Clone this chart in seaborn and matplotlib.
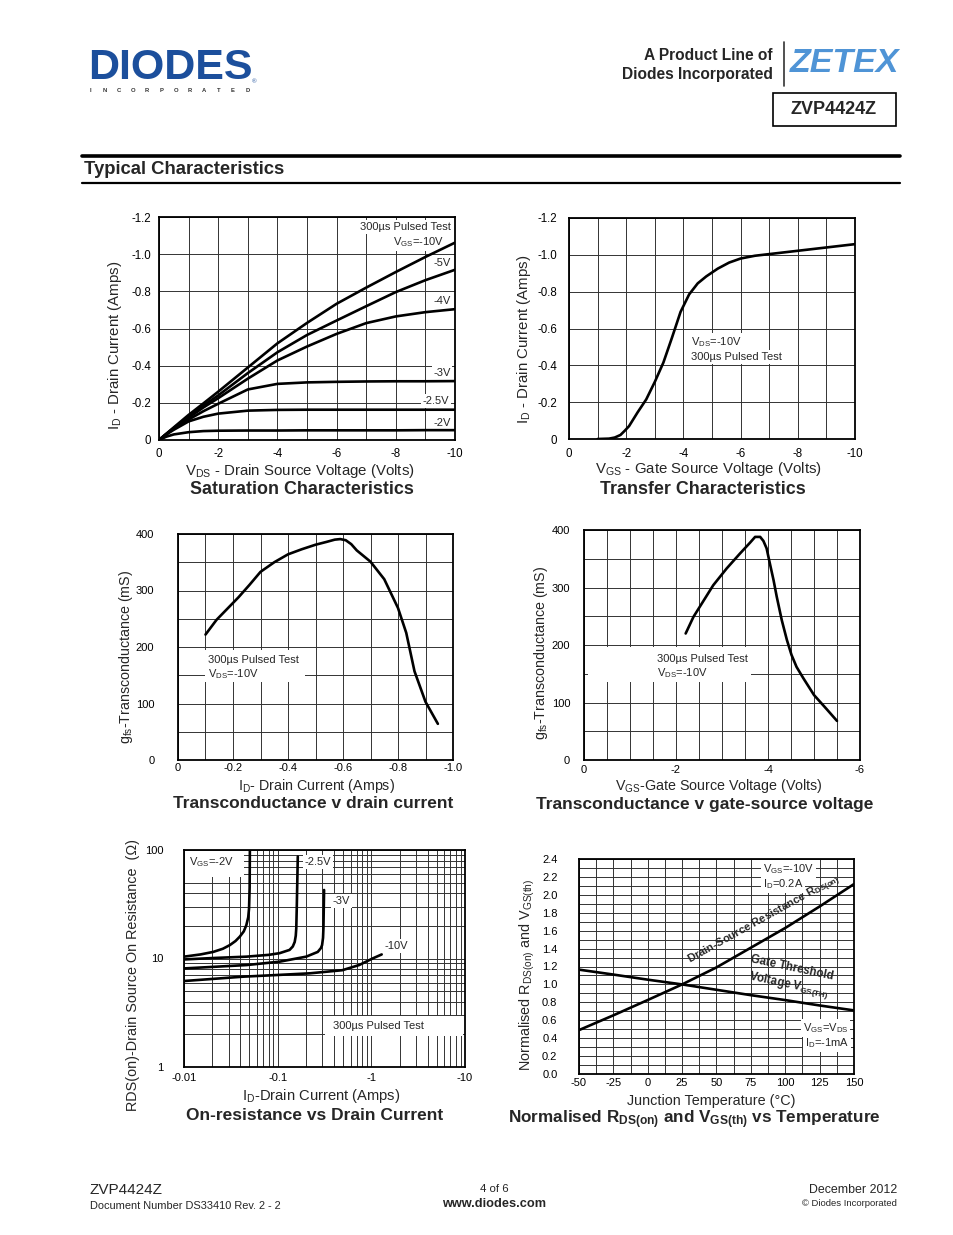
import matplotlib
matplotlib.use("Agg")
import matplotlib.pyplot as plt
import seaborn as sns
from matplotlib.lines import Line2D
from matplotlib.patches import Rectangle
from matplotlib.ticker import NullFormatter

# ---------------- data ----------------
# Saturation characteristics (VDS in V, ID in A)
sat_vds = [0, -0.25, -0.5, -1, -1.5, -2, -3, -4, -5, -6, -7, -8, -9, -10]
sat_id_m10 = [0, -0.034, -0.068, -0.135, -0.197, -0.26, -0.39, -0.52, -0.63, -0.733, -0.82, -0.904, -0.985, -1.062]
sat_id_m5 = [0, -0.033, -0.065, -0.125, -0.185, -0.24, -0.36, -0.472, -0.565, -0.643, -0.72, -0.796, -0.86, -0.916]
sat_id_m4 = [0, -0.032, -0.062, -0.12, -0.175, -0.225, -0.33, -0.428, -0.503, -0.571, -0.629, -0.665, -0.688, -0.704]
sat_id_m3 = [0, -0.031, -0.06, -0.11, -0.155, -0.195, -0.272, -0.302, -0.31, -0.313, -0.315, -0.316, -0.316, -0.317]
sat_id_m25 = [0, -0.03, -0.055, -0.1, -0.125, -0.142, -0.158, -0.162, -0.163, -0.163, -0.163, -0.163, -0.163, -0.163]
sat_id_m2 = [0, -0.018, -0.03, -0.042, -0.048, -0.05, -0.051, -0.051, -0.052, -0.052, -0.052, -0.052, -0.053, -0.053]

# Transfer characteristics
tr_vgs = [-1.0, -1.4, -1.6, -1.8, -1.95, -2.1, -2.4, -2.7, -3.0, -3.3, -3.6, -3.9, -4.2, -4.5, -4.8,
          -5.2, -5.6, -6.0, -6.5, -7.0, -8.0, -9.0, -10.0]
tr_id = [0, -0.002, -0.008, -0.022, -0.045, -0.07, -0.145, -0.215, -0.31, -0.415, -0.55, -0.69, -0.785,
         -0.845, -0.883, -0.925, -0.958, -0.98, -0.995, -1.004, -1.022, -1.04, -1.058]

# Transconductance v drain current
gm_id = [-0.10, -0.14, -0.18, -0.22, -0.26, -0.30, -0.35, -0.40, -0.45, -0.50, -0.54, -0.57, -0.59,
         -0.61, -0.63, -0.65, -0.70, -0.75, -0.80, -0.83, -0.86, -0.90, -0.945]
gm_id_gfs = [222, 248, 268, 288, 310, 333, 350, 364, 373, 381, 386, 390, 391,
             389, 382, 371, 351, 320, 269, 225, 157, 103, 64]

# Transconductance v gate-source voltage
gm_vgs = [-2.21, -2.38, -2.56, -2.81, -3.1, -3.39, -3.61, -3.72, -3.83, -3.9, -3.97, -4.04, -4.12,
          -4.19, -4.3, -4.41, -4.51, -4.62, -4.77, -5.0, -5.28, -5.5]
gm_vgs_gfs = [220, 249, 272, 304, 333, 359, 378, 388, 388, 381, 368, 342, 313,
              284, 243, 209, 183, 162, 142, 113, 88, 68]

# On-resistance v drain current (|ID| in A, RDS in ohm)
ron_id_m2 = [0.01, 0.015, 0.0205, 0.026, 0.0309, 0.0355, 0.0394, 0.0435, 0.0463, 0.0485, 0.0495, 0.0502, 0.0505]
ron_r_m2 = [10.4, 10.9, 11.5, 12.3, 13.3, 14.5, 15.9, 17.8, 20.3, 24.0, 29.0, 45.0, 100.0]
ron_id_m25 = [0.01, 0.0203, 0.0465, 0.08, 0.105, 0.134, 0.145, 0.152, 0.156, 0.158, 0.160, 0.164]
ron_r_m25 = [9.8, 10.1, 10.4, 10.8, 11.2, 12.0, 12.9, 14.2, 16.2, 19.0, 30.0, 87.0]
ron_id_m3 = [0.01, 0.0465, 0.105, 0.2017, 0.268, 0.29, 0.298, 0.305, 0.308, 0.313]
ron_r_m3 = [8.1, 8.7, 9.35, 10.4, 11.5, 12.5, 13.3, 15.5, 19.0, 42.8]
ron_id_m10 = [0.01, 0.0428, 0.1, 0.22, 0.49, 0.74, 1.03, 1.29]
ron_r_m10 = [6.2, 6.8, 7.05, 7.3, 7.8, 8.7, 10.0, 10.9]

# Normalised RDS(on) and VGS(th) v temperature
temp_c = [-50, -25, 0, 25, 50, 75, 100, 125, 150]
norm_rds = [0.49, 0.655, 0.826, 1.0, 1.19, 1.41, 1.63, 1.87, 2.12]
norm_vth = [1.165, 1.11, 1.053, 1.0, 0.94, 0.88, 0.825, 0.765, 0.71]

# tick labels
sat_xt = [0, -2, -4, -6, -8, -10]
sat_xl = ['0', '-2', '-4', '-6', '-8', '-10']
sat_yt = [0, -0.2, -0.4, -0.6, -0.8, -1.0, -1.2]
sat_yl = ['0', '-0.2', '-0.4', '-0.6', '-0.8', '-1.0', '-1.2']
gm1_xt = [0, -0.2, -0.4, -0.6, -0.8, -1.0]
gm1_xl = ['0', '-0.2', '-0.4', '-0.6', '-0.8', '-1.0']
gm_yt = [0, 100, 200, 300, 400]
gm_yl = ['0', '100', '200', '300', '400']
gm2_xt = [0, -2, -4, -6]
gm2_xl = ['0', '-2', '-4', '-6']
ron_xt = [0.01, 0.1, 1, 10]
ron_xl = ['-0.01', '-0.1', '-1', '-10']
ron_yt = [1, 10, 100]
ron_yl = ['1', '10', '100']
tmp_xt = [-50, -25, 0, 25, 50, 75, 100, 125, 150]
tmp_xl = ['-50', '-25', '0', '25', '50', '75', '100', '125', '150']
tmp_yt = [0.0, 0.2, 0.4, 0.6, 0.8, 1.0, 1.2, 1.4, 1.6, 1.8, 2.0, 2.2, 2.4]
tmp_yl = ['0.0', '0.2', '0.4', '0.6', '0.8', '1.0', '1.2', '1.4', '1.6', '1.8', '2.0', '2.2', '2.4']

# ---------------- style ----------------
W, H = 954, 1235
sns.set_theme(style="white")
plt.rcParams['font.family'] = ['Liberation Sans', 'DejaVu Sans']
plt.rcParams['mathtext.fontset'] = 'custom'
plt.rcParams['mathtext.rm'] = 'Liberation Sans'
plt.rcParams['mathtext.it'] = 'Liberation Sans:italic'
plt.rcParams['mathtext.bf'] = 'Liberation Sans:bold'
plt.rcParams['axes.unicode_minus'] = False

fig = plt.figure(figsize=(W / 100, H / 100), dpi=100)
fig.patch.set_facecolor('white')


def fx(x):
    return x / W


def fy(y):
    return 1 - y / H


def T(x, y, s, **kw):
    kw.setdefault('ha', 'center')
    kw.setdefault('va', 'center')
    return fig.text(fx(x), fy(y), s, **kw)


def hline(x0, x1, y, lw, color='black'):
    fig.add_artist(Line2D([fx(x0), fx(x1)], [fy(y), fy(y)], lw=lw, color=color))


def make_ax(l, t, r, b):
    return fig.add_axes([l / W, 1 - b / H, (r - l) / W, (b - t) / H])


def style(ax, xt, xl, xmin, yt, yl, ymin, xpad, ypad, fs):
    ax.set_xticks(xt, labels=xl)
    ax.set_xticks(xmin, minor=True)
    ax.set_yticks(yt, labels=yl)
    ax.set_yticks(ymin, minor=True)
    ax.xaxis.set_minor_formatter(NullFormatter())
    ax.yaxis.set_minor_formatter(NullFormatter())
    ax.set_axisbelow(True)
    ax.grid(True, which='both', color='#333333', lw=0.7)
    ax.tick_params(which='both', length=0)
    ax.tick_params(axis='x', pad=xpad, labelsize=fs, colors='black')
    ax.tick_params(axis='y', pad=ypad, labelsize=fs, colors='black')
    for s in ax.spines.values():
        s.set_visible(True)
        s.set_color('black')
        s.set_linewidth(1.3)
    ax.set_xlabel('')
    ax.set_ylabel('')
    ax.set_facecolor('white')


def curve(ax, x, y, lw=1.9):
    sns.lineplot(x=x, y=y, ax=ax, color='black', lw=lw, estimator=None, sort=False)


def white_patch(ax, x0, y0, w, h):
    ax.add_patch(Rectangle((x0, y0), w, h, transform=ax.transAxes, fc='white', ec='none', zorder=1))


WB = dict(boxstyle='square,pad=0.15', fc='white', ec='none')
LBL = 8

# ---------------- header ----------------
T(88, 68, 'DIODES', fontsize=31, weight='heavy', color='#1c4f9c', ha='left')
hline(88, 250, 67, 1.4, color='white')
T(254, 82, '®', fontsize=4.5, color='#1c4f9c')
for i, ch in enumerate('INCORPORATED'):
    T(90 + i * 14.3, 91, ch, fontsize=4.2, weight='bold', color='#333333')
T(773, 55, 'A Product Line of', fontsize=11.2, weight='bold', ha='right')
T(773, 75, 'Diodes Incorporated', fontsize=11.2, weight='bold', ha='right')
fig.add_artist(Line2D([fx(784), fx(784)], [fy(42), fy(86)], lw=1.2, color='#333333'))
T(790, 64, 'ZETEX', fontsize=24.5, weight='bold', style='italic', color='#4f94d6', ha='left')
fig.add_artist(Rectangle((fx(773), fy(126)), fx(896) - fx(773), fy(93) - fy(126),
                         fill=False, ec='black', lw=1.2))
T(834, 110, 'ZVP4424Z', fontsize=13, weight='bold')

hline(82, 900, 156, 2.6)
T(84, 170, 'Typical Characteristics', fontsize=13.3, weight='bold', ha='left')
hline(82, 900, 183, 1.6)

# ---------------- 1: Saturation ----------------
ax1 = make_ax(159, 217, 455, 440)
for yv in [sat_id_m10, sat_id_m5, sat_id_m4, sat_id_m3, sat_id_m25, sat_id_m2]:
    curve(ax1, sat_vds, yv)
style(ax1, sat_xt, sat_xl, [-1, -3, -5, -7, -9], sat_yt, sat_yl, [], 6, 5.5, 8.3)
ax1.set_xlim(0, -10)
ax1.set_ylim(0, -1.2)
ax1.text(-9.85, -1.146, '300µs Pulsed Test', fontsize=LBL, ha='right', va='center', bbox=WB, zorder=1.5)
ax1.text(-9.62, -1.065, r'$\mathregular{V_{GS}}$=-10V', fontsize=LBL, ha='right', va='center', bbox=WB, zorder=1.5)
for lab, yy, xx in [('-5V', -0.952, -9.56), ('-4V', -0.748, -9.56), ('-3V', -0.361, -9.56),
                    ('-2.5V', -0.21, -9.36), ('-2V', -0.0915, -9.56)]:
    ax1.text(xx, yy, lab, fontsize=LBL, ha='center', va='center', bbox=WB, zorder=1.5)
T(115, 345, r'$\mathregular{I_D}$ - Drain Current (Amps)', fontsize=10.8, rotation=90)
T(300, 471, r'$\mathregular{V_{DS}}$ - Drain Source Voltage (Volts)', fontsize=10.8)
T(302, 489, 'Saturation Characteristics', fontsize=12.9, weight='bold')

# ---------------- 2: Transfer ----------------
ax2 = make_ax(569, 218, 855, 439)
curve(ax2, tr_vgs, tr_id)
style(ax2, sat_xt, sat_xl, [-1, -3, -5, -7, -9], sat_yt, sat_yl, [], 6.5, 8.5, 8.3)
ax2.set_xlim(0, -10)
ax2.set_ylim(0, -1.2)
ax2.text(-4.25, -0.527, r'$\mathregular{V_{DS}}$=-10V', fontsize=LBL, ha='left', va='center', bbox=WB, zorder=1.5)
ax2.text(-4.25, -0.445, '300µs Pulsed Test', fontsize=LBL, ha='left', va='center', bbox=WB, zorder=1.5)
T(524, 339, r'$\mathregular{I_D}$ - Drain Current (Amps)', fontsize=10.8, rotation=90)
T(708, 469, r'$\mathregular{V_{GS}}$ - Gate Source Voltage (Volts)', fontsize=10.8)
T(703, 489, 'Transfer Characteristics', fontsize=12.9, weight='bold')

# ---------------- 3: gfs v ID ----------------
ax3 = make_ax(178, 534, 453, 760)
curve(ax3, gm_id, gm_id_gfs)
style(ax3, gm1_xt, gm1_xl, [-0.1, -0.3, -0.5, -0.7, -0.9], gm_yt, gm_yl, [50, 150, 250, 350],
      2.5, 17, 8)
ax3.set_xlim(0, -1.0)
ax3.set_ylim(0, 400)
white_patch(ax3, 0.10, 0.345, 0.36, 0.14)
ax3.text(-0.11, 177, '300µs Pulsed Test', fontsize=LBL, ha='left', va='center', zorder=1.5)
ax3.text(-0.11, 152, r'$\mathregular{V_{DS}}$=-10V', fontsize=LBL, ha='left', va='center', zorder=1.5)
T(126, 657, r'$\mathregular{g_{fs}}$-Transconductance (mS)', fontsize=10.3, rotation=90)
T(317, 786, r'$\mathregular{I_D}$- Drain Current (Amps)', fontsize=10.3)
T(313, 803, 'Transconductance v drain current', fontsize=12.5, weight='bold')

# ---------------- 4: gfs v VGS ----------------
ax4 = make_ax(584, 530, 860, 760)
curve(ax4, gm_vgs, gm_vgs_gfs)
style(ax4, gm2_xt, gm2_xl, [-0.5, -1, -1.5, -2.5, -3, -3.5, -4.5, -5, -5.5], gm_yt, gm_yl,
      [50, 150, 250, 350], 3.6, 10, 8)
ax4.set_xlim(0, -6)
ax4.set_ylim(0, 400)
white_patch(ax4, 0.015, 0.34, 0.59, 0.15)
ax4.text(-1.59, 175.7, '300µs Pulsed Test', fontsize=LBL, ha='left', va='center', zorder=1.5)
ax4.text(-1.59, 151.3, r'$\mathregular{V_{DS}}$=-10V', fontsize=LBL, ha='left', va='center', zorder=1.5)
T(541, 653, r'$\mathregular{g_{fs}}$-Transconductance (mS)', fontsize=10.3, rotation=90)
T(719, 786, r'$\mathregular{V_{GS}}$-Gate Source Voltage (Volts)', fontsize=10.3)
T(705, 804, 'Transconductance v gate-source voltage', fontsize=12.5, weight='bold')

# ---------------- 5: RDS(on) v ID ----------------
ax5 = make_ax(184, 850, 465, 1067)
for xv, yv in [(ron_id_m2, ron_r_m2), (ron_id_m25, ron_r_m25), (ron_id_m3, ron_r_m3),
               (ron_id_m10, ron_r_m10)]:
    curve(ax5, xv, yv)
ax5.set_xscale('log')
ax5.set_yscale('log')
xminor = [k * 10.0 ** e for e in (-2, -1, 0) for k in range(2, 10)]
yminor = [k * 10.0 ** e for e in (0, 1) for k in range(2, 10)]
style(ax5, ron_xt, ron_xl, xminor, ron_yt, ron_yl, yminor, 4.3, 15, 8)
ax5.set_xlim(0.01, 10)
ax5.set_ylim(1, 100)
white_patch(ax5, 0.004, 0.876, 0.21, 0.12)
white_patch(ax5, 0.502, 0.143, 0.491, 0.092)
ax5.text(0.0112, 77.5, r'$\mathregular{V_{GS}}$=-2V', fontsize=LBL, ha='left', va='center', zorder=1.5)
ax5.text(0.194, 77.5, '-2.5V', fontsize=LBL, ha='left', va='center', bbox=WB, zorder=1.5)
ax5.text(0.385, 33.9, '-3V', fontsize=LBL, ha='left', va='center', bbox=WB, zorder=1.5)
ax5.text(1.375, 13.0, '-10V', fontsize=LBL, ha='left', va='center', bbox=WB, zorder=1.5)
ax5.text(1.186, 2.39, '300µs Pulsed Test', fontsize=LBL, ha='center', va='center', zorder=1.5)
T(133, 975, 'RDS(on)-Drain Source On Resistance  (Ω)', fontsize=10.4, rotation=90)
T(321, 1096, r'$\mathregular{I_D}$-Drain Current (Amps)', fontsize=10.6)
T(315, 1115, 'On-resistance vs Drain Current', fontsize=12.5, weight='bold')

# ---------------- 6: Normalised v temperature ----------------
ax6 = make_ax(579, 859, 854, 1074)
curve(ax6, temp_c, norm_rds)
curve(ax6, temp_c, norm_vth)
style(ax6, tmp_xt, tmp_xl, [-37.5, -12.5, 12.5, 37.5, 62.5, 87.5, 112.5, 137.5], tmp_yt, tmp_yl,
      [0.1 + 0.2 * i for i in range(12)], 3.2, 15.5, 8)
ax6.set_xlim(-50, 150)
ax6.set_ylim(0, 2.4)
ax6.text(83.8, 2.288, r'$\mathregular{V_{GS}}$=-10V', fontsize=LBL, ha='left', va='center', bbox=WB, zorder=1.5)
ax6.text(83.8, 2.121, r'$\mathregular{I_D}$=0.2A', fontsize=LBL, ha='left', va='center', bbox=WB, zorder=1.5)
ax6.text(84.5, 1.72, r'Drain-Source Resistance $\mathbf{R_{DS(on)}}$', fontsize=8.1, weight='bold',
         ha='center', va='center', rotation=29, rotation_mode='anchor')
ax6.text(103.5, 1.075, 'Gate Threshold\n' + r'Voltage $\mathbf{V_{GS(TH)}}$', fontsize=8.3,
         weight='bold', ha='center', va='center', rotation=-12, rotation_mode='anchor',
         linespacing=1.3)
ax6.text(112.9, 0.513, r'$\mathregular{V_{GS}}$=$\mathregular{V_{DS}}$', fontsize=LBL, ha='left',
         va='center', bbox=WB, zorder=1.5)
ax6.text(114.4, 0.346, r'$\mathregular{I_D}$=-1mA', fontsize=LBL, ha='left', va='center', bbox=WB, zorder=1.5)
T(527, 975, r'Normalised $\mathregular{R_{DS(on)}}$ and $\mathregular{V_{GS(th)}}$', fontsize=10.4,
  rotation=90)
T(711, 1101, 'Junction Temperature (°C)', fontsize=10.4)
T(694, 1120, r'Normalised R$\mathbf{_{DS(on)}}$ and V$\mathbf{_{GS(th)}}$ vs Temperature',
  fontsize=12.3, weight='bold')

# ---------------- footer ----------------
T(90, 1190, 'ZVP4424Z', fontsize=11, ha='left')
T(90, 1206, 'Document Number DS33410 Rev. 2 - 2', fontsize=7.9, ha='left')
T(494, 1189, '4 of 6', fontsize=8.2)
T(494, 1204, 'www.diodes.com', fontsize=9.2, weight='bold')
T(897, 1190, 'December 2012', fontsize=8.9, ha='right')
T(897, 1204, '© Diodes Incorporated', fontsize=6.8, ha='right')

fig.savefig('out.png', dpi=100, facecolor='white')
